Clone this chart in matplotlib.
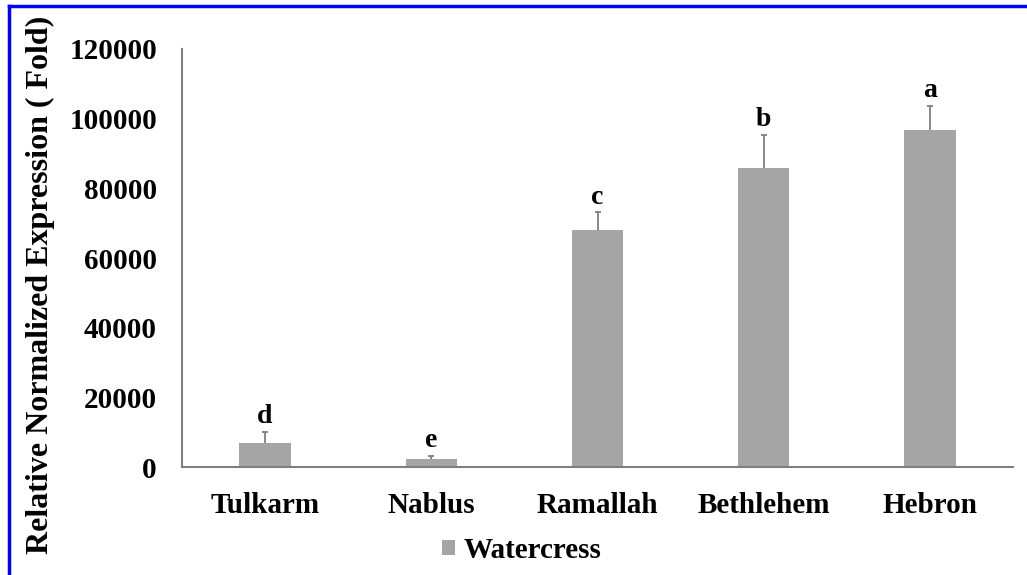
import matplotlib
matplotlib.use("Agg")
import matplotlib.pyplot as plt
from matplotlib.lines import Line2D
import numpy as np

regions = ['Tulkarm', 'Nablus', 'Ramallah', 'Bethlehem', 'Hebron']
expression = [6800, 2200, 67900, 85800, 96800]
errors = [3300, 900, 5200, 9600, 6900]
letters = ['d', 'e', 'c', 'b', 'a']
series_name = 'Watercress'

plt.rcParams['font.family'] = 'Liberation Serif'
plt.rcParams['font.weight'] = 'bold'

fig = plt.figure(figsize=(10.27, 5.75), dpi=100)
ax = fig.add_axes([0.1772, 0.1878, 0.8092, 0.727])

x = np.arange(len(regions))
vals = np.array(expression)
errs = np.array(errors)
bars = ax.bar(x, vals, width=0.31, color='#a5a5a5', label=series_name, zorder=2)

# upper error bars only, small cap at the top
ax.vlines(x, vals, vals + errs, color='#7f7f7f', lw=1.3, zorder=3)
ax.plot(x, vals + errs, ls='none', marker='_', ms=5, mew=1.3, color='#7f7f7f', zorder=3)

for xi, v, e, lab in zip(x, vals, errs, letters):
    ax.annotate(lab, (xi, v + e), xytext=(0, 2), textcoords='offset points',
                ha='center', va='bottom', fontsize=20, fontweight='bold')

ax.set_xlim(-0.5, 4.5)
ax.set_ylim(0, 120000)
ax.set_yticks(np.arange(0, 120001, 20000))
ax.set_xticks(x)
ax.set_xticklabels(regions)
ax.tick_params(axis='y', length=0, pad=18, labelsize=21)
ax.tick_params(axis='x', length=0, pad=18, labelsize=21)
for t in ax.get_xticklabels() + ax.get_yticklabels():
    t.set_fontweight('bold')

for s in ['top', 'right']:
    ax.spines[s].set_visible(False)
for s in ['left', 'bottom']:
    ax.spines[s].set_color('#7f7f7f')
    ax.spines[s].set_linewidth(1.5)

fig.text(0.039, 0.505, 'Relative Normalized Expression ( Fold)', rotation=90,
         ha='center', va='center', fontsize=23, fontweight='bold')

fig.legend(handles=[bars], labels=[series_name], loc='center',
           bbox_to_anchor=(0.508, 0.043), frameon=False, fontsize=21,
           handlelength=0.45, handleheight=0.45, handletextpad=0.3)

# blue frame on top and left
fig.add_artist(Line2D([9/1027, 1], [1 - 6/575, 1 - 6/575], color='#0000ff', lw=2.5,
                      transform=fig.transFigure))
fig.add_artist(Line2D([9/1027, 9/1027], [0, 1 - 6/575], color='#0000ff', lw=2.5,
                      transform=fig.transFigure))

fig.savefig('out.png', dpi=100)
